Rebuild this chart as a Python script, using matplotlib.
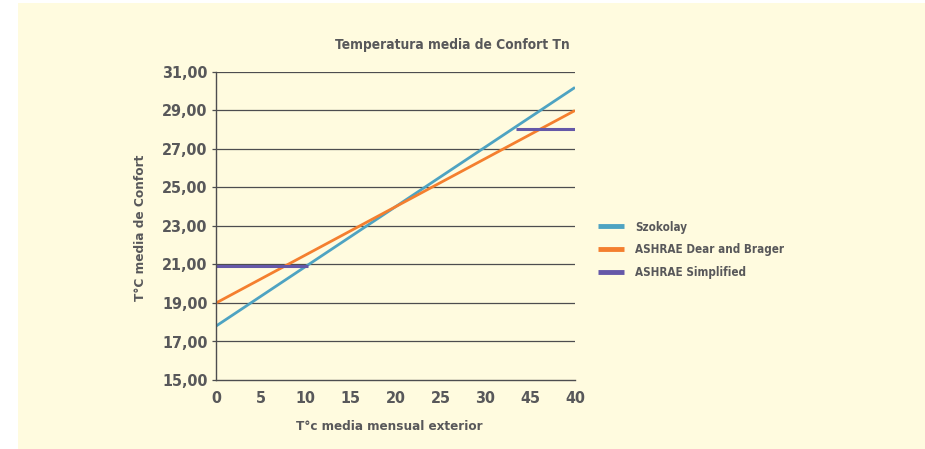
import matplotlib
matplotlib.use('Agg')
import matplotlib.pyplot as plt
from matplotlib import font_manager
from matplotlib.patches import Rectangle

# data
temp_ext = [0, 5, 10, 15, 20, 25, 30, 35, 40]
tick_labels = ['0', '5', '10', '15', '20', '25', '30', '45', '40']
szokolay = [17.8, 19.35, 20.9, 22.45, 24.0, 25.55, 27.1, 28.65, 30.2]
dear_brager = [19.0, 20.25, 21.5, 22.75, 24.0, 25.25, 26.5, 27.75, 29.0]
simp_low_x = [0, 10.2]
simp_low = [20.9, 20.9]
simp_high_x = [33.4, 40]
simp_high = [28.05, 28.05]
y_ticks = [15, 17, 19, 21, 23, 25, 27, 29, 31]

bg = '#fffbdf'
txt = '#58585a'
grid_c = '#4d4d4f'

has_cond = any(f.name == 'DejaVu Sans' and f.stretch == 'condensed'
               for f in font_manager.fontManager.ttflist)

plt.rcParams['font.family'] = ['DejaVu Sans']
plt.rcParams['font.weight'] = 'bold'
if has_cond:
    plt.rcParams['font.stretch'] = 'condensed'

fig = plt.figure(figsize=(9.25, 4.49), dpi=100)
fig.patch.set_facecolor('white')
fig.patches.append(Rectangle((18 / 925, 0), 1, 1 - 3 / 449, transform=fig.transFigure,
                             facecolor=bg, edgecolor='none', zorder=-10))

ax = fig.add_axes([216 / 925, 1 - 380 / 449, (575 - 216) / 925, (380 - 72) / 449])
ax.set_facecolor('none')

ax.plot(temp_ext, szokolay, color='#4ea3c2', lw=2.0, label='Szokolay', solid_capstyle='butt')
ax.plot(temp_ext, dear_brager, color='#f47f2f', lw=2.0, label='ASHRAE Dear and Brager', solid_capstyle='butt')
ax.plot(simp_low_x, simp_low, color='#6558a8', lw=2.2, label='ASHRAE Simplified', solid_capstyle='butt')
ax.plot(simp_high_x, simp_high, color='#6558a8', lw=2.2, solid_capstyle='butt')

ax.set_xlim(0, 40)
ax.set_ylim(15, 31)
ax.set_yticks(y_ticks)
ax.set_yticklabels([f'{v:.2f}'.replace('.', ',') for v in y_ticks])
ax.set_xticks(temp_ext)
ax.set_xticklabels(tick_labels)

for v in y_ticks[1:]:
    ax.axhline(v, color=grid_c, lw=0.9, zorder=0)
for s in ['top', 'right']:
    ax.spines[s].set_visible(False)
for s in ['left', 'bottom']:
    ax.spines[s].set_color(grid_c)
    ax.spines[s].set_linewidth(1.0)

ax.tick_params(axis='y', length=3, width=0.9, color=grid_c, labelsize=11.5, labelcolor=txt, pad=3)
ax.tick_params(axis='x', length=0, labelsize=11.5, labelcolor=txt, pad=8)

fig.text(452 / 925, 1 - 45 / 449, 'Temperatura media de Confort Tn', ha='center', va='center',
         fontsize=9.9, color=txt, fontweight='bold')
fig.text(389 / 925, 1 - 426 / 449, 'T\u00b0c media mensual exterior', ha='center', va='center',
         fontsize=9.6, color=txt, fontweight='bold')
fig.text(141 / 925, 1 - 228 / 449, 'T\u00b0C media de Confort', ha='center', va='center',
         rotation=90, fontsize=9.7, color=txt, fontweight='bold')

leg = ax.legend(loc='upper left', bbox_to_anchor=(587 / 925, 1 - 210 / 449),
                bbox_transform=fig.transFigure, frameon=False, fontsize=8.4,
                handlelength=2.3, handletextpad=0.95, labelspacing=0.85)
for t in leg.get_texts():
    t.set_color(txt)
    t.set_fontweight('bold')
for h in leg.get_lines():
    h.set_linewidth(3.5)

fig.savefig('out.png', dpi=100, facecolor=fig.get_facecolor())
